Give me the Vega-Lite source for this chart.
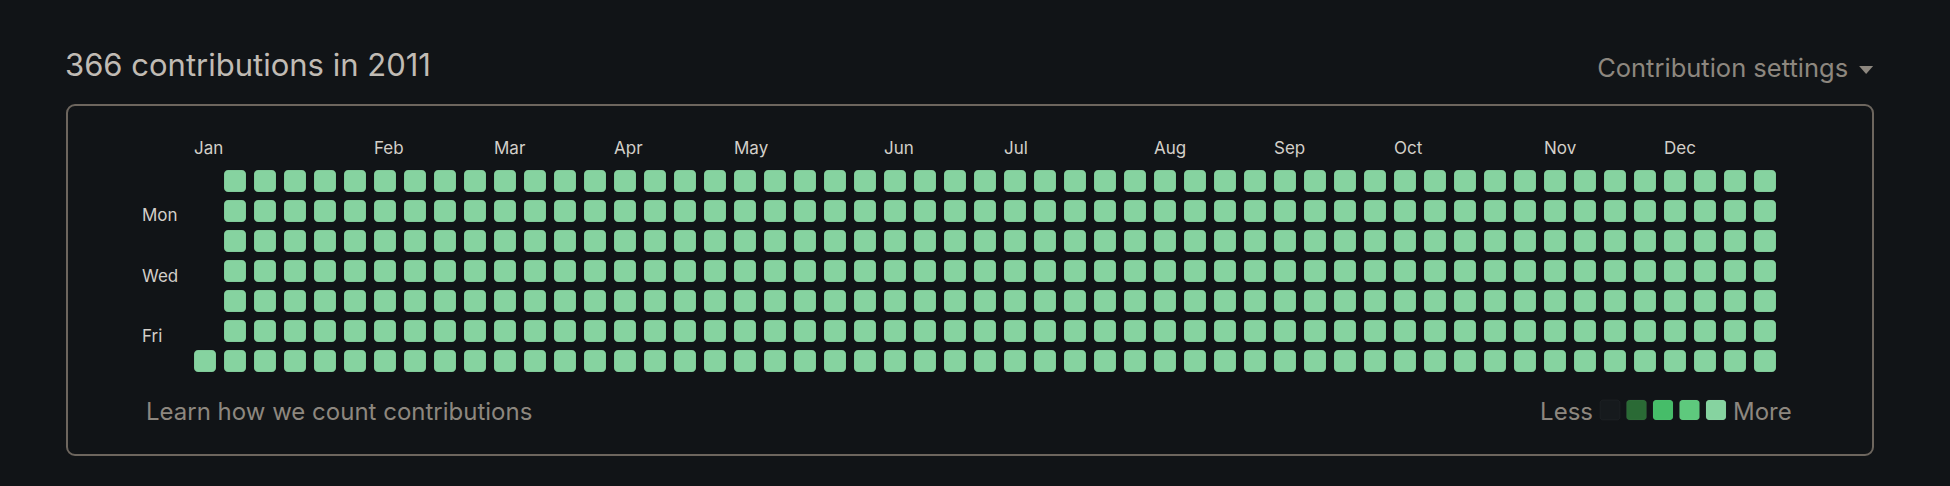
{
  "$schema": "https://vega.github.io/schema/vega-lite/v6.json",
  "width": 1806,
  "height": 350,
  "autosize": {"type": "none"},
  "padding": {"left": 67, "top": 105, "right": 77, "bottom": 31},
  "background": "#111417",
  "config": {
    "view": {"stroke": "#6d665e", "strokeWidth": 2, "cornerRadius": 8},
    "axis": {"disable": true},
    "legend": {"disable": true},
    "text": {"font": "Inter"}
  },
  "datasets": {
    "cells": [
      {"week":0,"day":6,"level":4},
      {"week":1,"day":0,"level":4},{"week":1,"day":1,"level":4},{"week":1,"day":2,"level":4},{"week":1,"day":3,"level":4},{"week":1,"day":4,"level":4},{"week":1,"day":5,"level":4},{"week":1,"day":6,"level":4},
      {"week":2,"day":0,"level":4},{"week":2,"day":1,"level":4},{"week":2,"day":2,"level":4},{"week":2,"day":3,"level":4},{"week":2,"day":4,"level":4},{"week":2,"day":5,"level":4},{"week":2,"day":6,"level":4},
      {"week":3,"day":0,"level":4},{"week":3,"day":1,"level":4},{"week":3,"day":2,"level":4},{"week":3,"day":3,"level":4},{"week":3,"day":4,"level":4},{"week":3,"day":5,"level":4},{"week":3,"day":6,"level":4},
      {"week":4,"day":0,"level":4},{"week":4,"day":1,"level":4},{"week":4,"day":2,"level":4},{"week":4,"day":3,"level":4},{"week":4,"day":4,"level":4},{"week":4,"day":5,"level":4},{"week":4,"day":6,"level":4},
      {"week":5,"day":0,"level":4},{"week":5,"day":1,"level":4},{"week":5,"day":2,"level":4},{"week":5,"day":3,"level":4},{"week":5,"day":4,"level":4},{"week":5,"day":5,"level":4},{"week":5,"day":6,"level":4},
      {"week":6,"day":0,"level":4},{"week":6,"day":1,"level":4},{"week":6,"day":2,"level":4},{"week":6,"day":3,"level":4},{"week":6,"day":4,"level":4},{"week":6,"day":5,"level":4},{"week":6,"day":6,"level":4},
      {"week":7,"day":0,"level":4},{"week":7,"day":1,"level":4},{"week":7,"day":2,"level":4},{"week":7,"day":3,"level":4},{"week":7,"day":4,"level":4},{"week":7,"day":5,"level":4},{"week":7,"day":6,"level":4},
      {"week":8,"day":0,"level":4},{"week":8,"day":1,"level":4},{"week":8,"day":2,"level":4},{"week":8,"day":3,"level":4},{"week":8,"day":4,"level":4},{"week":8,"day":5,"level":4},{"week":8,"day":6,"level":4},
      {"week":9,"day":0,"level":4},{"week":9,"day":1,"level":4},{"week":9,"day":2,"level":4},{"week":9,"day":3,"level":4},{"week":9,"day":4,"level":4},{"week":9,"day":5,"level":4},{"week":9,"day":6,"level":4},
      {"week":10,"day":0,"level":4},{"week":10,"day":1,"level":4},{"week":10,"day":2,"level":4},{"week":10,"day":3,"level":4},{"week":10,"day":4,"level":4},{"week":10,"day":5,"level":4},{"week":10,"day":6,"level":4},
      {"week":11,"day":0,"level":4},{"week":11,"day":1,"level":4},{"week":11,"day":2,"level":4},{"week":11,"day":3,"level":4},{"week":11,"day":4,"level":4},{"week":11,"day":5,"level":4},{"week":11,"day":6,"level":4},
      {"week":12,"day":0,"level":4},{"week":12,"day":1,"level":4},{"week":12,"day":2,"level":4},{"week":12,"day":3,"level":4},{"week":12,"day":4,"level":4},{"week":12,"day":5,"level":4},{"week":12,"day":6,"level":4},
      {"week":13,"day":0,"level":4},{"week":13,"day":1,"level":4},{"week":13,"day":2,"level":4},{"week":13,"day":3,"level":4},{"week":13,"day":4,"level":4},{"week":13,"day":5,"level":4},{"week":13,"day":6,"level":4},
      {"week":14,"day":0,"level":4},{"week":14,"day":1,"level":4},{"week":14,"day":2,"level":4},{"week":14,"day":3,"level":4},{"week":14,"day":4,"level":4},{"week":14,"day":5,"level":4},{"week":14,"day":6,"level":4},
      {"week":15,"day":0,"level":4},{"week":15,"day":1,"level":4},{"week":15,"day":2,"level":4},{"week":15,"day":3,"level":4},{"week":15,"day":4,"level":4},{"week":15,"day":5,"level":4},{"week":15,"day":6,"level":4},
      {"week":16,"day":0,"level":4},{"week":16,"day":1,"level":4},{"week":16,"day":2,"level":4},{"week":16,"day":3,"level":4},{"week":16,"day":4,"level":4},{"week":16,"day":5,"level":4},{"week":16,"day":6,"level":4},
      {"week":17,"day":0,"level":4},{"week":17,"day":1,"level":4},{"week":17,"day":2,"level":4},{"week":17,"day":3,"level":4},{"week":17,"day":4,"level":4},{"week":17,"day":5,"level":4},{"week":17,"day":6,"level":4},
      {"week":18,"day":0,"level":4},{"week":18,"day":1,"level":4},{"week":18,"day":2,"level":4},{"week":18,"day":3,"level":4},{"week":18,"day":4,"level":4},{"week":18,"day":5,"level":4},{"week":18,"day":6,"level":4},
      {"week":19,"day":0,"level":4},{"week":19,"day":1,"level":4},{"week":19,"day":2,"level":4},{"week":19,"day":3,"level":4},{"week":19,"day":4,"level":4},{"week":19,"day":5,"level":4},{"week":19,"day":6,"level":4},
      {"week":20,"day":0,"level":4},{"week":20,"day":1,"level":4},{"week":20,"day":2,"level":4},{"week":20,"day":3,"level":4},{"week":20,"day":4,"level":4},{"week":20,"day":5,"level":4},{"week":20,"day":6,"level":4},
      {"week":21,"day":0,"level":4},{"week":21,"day":1,"level":4},{"week":21,"day":2,"level":4},{"week":21,"day":3,"level":4},{"week":21,"day":4,"level":4},{"week":21,"day":5,"level":4},{"week":21,"day":6,"level":4},
      {"week":22,"day":0,"level":4},{"week":22,"day":1,"level":4},{"week":22,"day":2,"level":4},{"week":22,"day":3,"level":4},{"week":22,"day":4,"level":4},{"week":22,"day":5,"level":4},{"week":22,"day":6,"level":4},
      {"week":23,"day":0,"level":4},{"week":23,"day":1,"level":4},{"week":23,"day":2,"level":4},{"week":23,"day":3,"level":4},{"week":23,"day":4,"level":4},{"week":23,"day":5,"level":4},{"week":23,"day":6,"level":4},
      {"week":24,"day":0,"level":4},{"week":24,"day":1,"level":4},{"week":24,"day":2,"level":4},{"week":24,"day":3,"level":4},{"week":24,"day":4,"level":4},{"week":24,"day":5,"level":4},{"week":24,"day":6,"level":4},
      {"week":25,"day":0,"level":4},{"week":25,"day":1,"level":4},{"week":25,"day":2,"level":4},{"week":25,"day":3,"level":4},{"week":25,"day":4,"level":4},{"week":25,"day":5,"level":4},{"week":25,"day":6,"level":4},
      {"week":26,"day":0,"level":4},{"week":26,"day":1,"level":4},{"week":26,"day":2,"level":4},{"week":26,"day":3,"level":4},{"week":26,"day":4,"level":4},{"week":26,"day":5,"level":4},{"week":26,"day":6,"level":4},
      {"week":27,"day":0,"level":4},{"week":27,"day":1,"level":4},{"week":27,"day":2,"level":4},{"week":27,"day":3,"level":4},{"week":27,"day":4,"level":4},{"week":27,"day":5,"level":4},{"week":27,"day":6,"level":4},
      {"week":28,"day":0,"level":4},{"week":28,"day":1,"level":4},{"week":28,"day":2,"level":4},{"week":28,"day":3,"level":4},{"week":28,"day":4,"level":4},{"week":28,"day":5,"level":4},{"week":28,"day":6,"level":4},
      {"week":29,"day":0,"level":4},{"week":29,"day":1,"level":4},{"week":29,"day":2,"level":4},{"week":29,"day":3,"level":4},{"week":29,"day":4,"level":4},{"week":29,"day":5,"level":4},{"week":29,"day":6,"level":4},
      {"week":30,"day":0,"level":4},{"week":30,"day":1,"level":4},{"week":30,"day":2,"level":4},{"week":30,"day":3,"level":4},{"week":30,"day":4,"level":4},{"week":30,"day":5,"level":4},{"week":30,"day":6,"level":4},
      {"week":31,"day":0,"level":4},{"week":31,"day":1,"level":4},{"week":31,"day":2,"level":4},{"week":31,"day":3,"level":4},{"week":31,"day":4,"level":4},{"week":31,"day":5,"level":4},{"week":31,"day":6,"level":4},
      {"week":32,"day":0,"level":4},{"week":32,"day":1,"level":4},{"week":32,"day":2,"level":4},{"week":32,"day":3,"level":4},{"week":32,"day":4,"level":4},{"week":32,"day":5,"level":4},{"week":32,"day":6,"level":4},
      {"week":33,"day":0,"level":4},{"week":33,"day":1,"level":4},{"week":33,"day":2,"level":4},{"week":33,"day":3,"level":4},{"week":33,"day":4,"level":4},{"week":33,"day":5,"level":4},{"week":33,"day":6,"level":4},
      {"week":34,"day":0,"level":4},{"week":34,"day":1,"level":4},{"week":34,"day":2,"level":4},{"week":34,"day":3,"level":4},{"week":34,"day":4,"level":4},{"week":34,"day":5,"level":4},{"week":34,"day":6,"level":4},
      {"week":35,"day":0,"level":4},{"week":35,"day":1,"level":4},{"week":35,"day":2,"level":4},{"week":35,"day":3,"level":4},{"week":35,"day":4,"level":4},{"week":35,"day":5,"level":4},{"week":35,"day":6,"level":4},
      {"week":36,"day":0,"level":4},{"week":36,"day":1,"level":4},{"week":36,"day":2,"level":4},{"week":36,"day":3,"level":4},{"week":36,"day":4,"level":4},{"week":36,"day":5,"level":4},{"week":36,"day":6,"level":4},
      {"week":37,"day":0,"level":4},{"week":37,"day":1,"level":4},{"week":37,"day":2,"level":4},{"week":37,"day":3,"level":4},{"week":37,"day":4,"level":4},{"week":37,"day":5,"level":4},{"week":37,"day":6,"level":4},
      {"week":38,"day":0,"level":4},{"week":38,"day":1,"level":4},{"week":38,"day":2,"level":4},{"week":38,"day":3,"level":4},{"week":38,"day":4,"level":4},{"week":38,"day":5,"level":4},{"week":38,"day":6,"level":4},
      {"week":39,"day":0,"level":4},{"week":39,"day":1,"level":4},{"week":39,"day":2,"level":4},{"week":39,"day":3,"level":4},{"week":39,"day":4,"level":4},{"week":39,"day":5,"level":4},{"week":39,"day":6,"level":4},
      {"week":40,"day":0,"level":4},{"week":40,"day":1,"level":4},{"week":40,"day":2,"level":4},{"week":40,"day":3,"level":4},{"week":40,"day":4,"level":4},{"week":40,"day":5,"level":4},{"week":40,"day":6,"level":4},
      {"week":41,"day":0,"level":4},{"week":41,"day":1,"level":4},{"week":41,"day":2,"level":4},{"week":41,"day":3,"level":4},{"week":41,"day":4,"level":4},{"week":41,"day":5,"level":4},{"week":41,"day":6,"level":4},
      {"week":42,"day":0,"level":4},{"week":42,"day":1,"level":4},{"week":42,"day":2,"level":4},{"week":42,"day":3,"level":4},{"week":42,"day":4,"level":4},{"week":42,"day":5,"level":4},{"week":42,"day":6,"level":4},
      {"week":43,"day":0,"level":4},{"week":43,"day":1,"level":4},{"week":43,"day":2,"level":4},{"week":43,"day":3,"level":4},{"week":43,"day":4,"level":4},{"week":43,"day":5,"level":4},{"week":43,"day":6,"level":4},
      {"week":44,"day":0,"level":4},{"week":44,"day":1,"level":4},{"week":44,"day":2,"level":4},{"week":44,"day":3,"level":4},{"week":44,"day":4,"level":4},{"week":44,"day":5,"level":4},{"week":44,"day":6,"level":4},
      {"week":45,"day":0,"level":4},{"week":45,"day":1,"level":4},{"week":45,"day":2,"level":4},{"week":45,"day":3,"level":4},{"week":45,"day":4,"level":4},{"week":45,"day":5,"level":4},{"week":45,"day":6,"level":4},
      {"week":46,"day":0,"level":4},{"week":46,"day":1,"level":4},{"week":46,"day":2,"level":4},{"week":46,"day":3,"level":4},{"week":46,"day":4,"level":4},{"week":46,"day":5,"level":4},{"week":46,"day":6,"level":4},
      {"week":47,"day":0,"level":4},{"week":47,"day":1,"level":4},{"week":47,"day":2,"level":4},{"week":47,"day":3,"level":4},{"week":47,"day":4,"level":4},{"week":47,"day":5,"level":4},{"week":47,"day":6,"level":4},
      {"week":48,"day":0,"level":4},{"week":48,"day":1,"level":4},{"week":48,"day":2,"level":4},{"week":48,"day":3,"level":4},{"week":48,"day":4,"level":4},{"week":48,"day":5,"level":4},{"week":48,"day":6,"level":4},
      {"week":49,"day":0,"level":4},{"week":49,"day":1,"level":4},{"week":49,"day":2,"level":4},{"week":49,"day":3,"level":4},{"week":49,"day":4,"level":4},{"week":49,"day":5,"level":4},{"week":49,"day":6,"level":4},
      {"week":50,"day":0,"level":4},{"week":50,"day":1,"level":4},{"week":50,"day":2,"level":4},{"week":50,"day":3,"level":4},{"week":50,"day":4,"level":4},{"week":50,"day":5,"level":4},{"week":50,"day":6,"level":4},
      {"week":51,"day":0,"level":4},{"week":51,"day":1,"level":4},{"week":51,"day":2,"level":4},{"week":51,"day":3,"level":4},{"week":51,"day":4,"level":4},{"week":51,"day":5,"level":4},{"week":51,"day":6,"level":4},
      {"week":52,"day":0,"level":4},{"week":52,"day":1,"level":4},{"week":52,"day":2,"level":4},{"week":52,"day":3,"level":4},{"week":52,"day":4,"level":4},{"week":52,"day":5,"level":4},{"week":52,"day":6,"level":4}
    ],
    "months": [
      {"month":"Jan","week":0},{"month":"Feb","week":6},{"month":"Mar","week":10},{"month":"Apr","week":14},
      {"month":"May","week":18},{"month":"Jun","week":23},{"month":"Jul","week":27},{"month":"Aug","week":32},
      {"month":"Sep","week":36},{"month":"Oct","week":40},{"month":"Nov","week":45},{"month":"Dec","week":49}
    ],
    "days": [
      {"label":"Mon","day":1},{"label":"Wed","day":3},{"label":"Fri","day":5}
    ],
    "levels": [
      {"level":0},{"level":1},{"level":2},{"level":3},{"level":4}
    ]
  },
  "layer": [
    {
      "layer": [
        {
          "data": {"name": "cells"},
          "mark": {"type": "rect", "width": 22, "height": 22, "cornerRadius": 4, "stroke": "#000000", "strokeOpacity": 0.08, "strokeWidth": 1},
          "encoding": {
            "x": {"field": "week", "type": "quantitative", "scale": {"domain": [-4.6, 55.6], "nice": false, "zero": false}},
            "y": {"field": "day", "type": "quantitative", "scale": {"domain": [-2.53333, 9.13333], "nice": false, "zero": false, "reverse": true}},
            "color": {"field": "level", "type": "ordinal", "scale": {"domain": [0, 1, 2, 3, 4], "range": ["#161a1d", "#2a6a35", "#46bd69", "#5ec97d", "#86d3a0"]}}
          }
        },
        {
          "data": {"name": "months"},
          "mark": {"type": "text", "align": "left", "baseline": "alphabetic", "dx": -11, "dy": 3, "fontSize": 17, "color": "#d3cfc9"},
          "encoding": {
            "x": {"field": "week", "type": "quantitative"},
            "y": {"datum": -1},
            "text": {"field": "month"}
          }
        },
        {
          "data": {"name": "days"},
          "mark": {"type": "text", "align": "left", "baseline": "alphabetic", "dy": 10.5, "fontSize": 17, "color": "#d3cfc9"},
          "encoding": {
            "x": {"datum": -2.1},
            "y": {"field": "day", "type": "quantitative"},
            "text": {"field": "label"}
          }
        },
        {
          "data": {"values": [{"label": "366 contributions in 2011"}]},
          "mark": {"type": "text", "align": "left", "baseline": "alphabetic", "dx": -2, "fontSize": 31, "color": "#c0bbb4"},
          "encoding": {
            "x": {"datum": -4.6},
            "y": {"datum": -3.5},
            "text": {"field": "label"}
          }
        },
        {
          "data": {"values": [{"label": "Contribution settings"}]},
          "mark": {"type": "text", "align": "right", "baseline": "alphabetic", "fontSize": 25.5, "color": "#8d877f"},
          "encoding": {
            "x": {"datum": 54.77},
            "y": {"datum": -3.48},
            "text": {"field": "label"}
          }
        },
        {
          "data": {"values": [{"label": "menu"}]},
          "mark": {"type": "point", "shape": "M-1,-0.57L1,-0.57L0,0.57Z", "size": 196, "filled": true, "opacity": 1, "color": "#8d877f"},
          "encoding": {
            "x": {"datum": 55.37},
            "y": {"datum": -3.7}
          }
        },
        {
          "data": {"values": [{"label": "Learn how we count contributions"}]},
          "mark": {"type": "text", "align": "left", "baseline": "alphabetic", "dx": -2, "fontSize": 24, "color": "#8d877f"},
          "encoding": {
            "x": {"datum": -1.9},
            "y": {"datum": 7.967},
            "text": {"field": "label"}
          }
        }
      ]
    },
    {
      "layer": [
        {
          "data": {"name": "levels"},
          "mark": {"type": "rect", "width": 20, "height": 20, "cornerRadius": 3, "stroke": "#ffffff", "strokeOpacity": 0.04, "strokeWidth": 1},
          "encoding": {
            "x": {"field": "level", "type": "quantitative", "scale": {"domain": [-58.226, 9.925], "nice": false, "zero": false}},
            "y": {"datum": 7.633},
            "color": {"field": "level", "type": "ordinal"}
          }
        },
        {
          "data": {"values": [{"label": "Less"}]},
          "mark": {"type": "text", "align": "right", "baseline": "alphabetic", "dx": -17, "fontSize": 24, "color": "#8d877f"},
          "encoding": {
            "x": {"datum": 0},
            "y": {"datum": 7.967},
            "text": {"field": "label"}
          }
        },
        {
          "data": {"values": [{"label": "More"}]},
          "mark": {"type": "text", "align": "left", "baseline": "alphabetic", "dx": 17, "fontSize": 24, "color": "#8d877f"},
          "encoding": {
            "x": {"datum": 4},
            "y": {"datum": 7.967},
            "text": {"field": "label"}
          }
        }
      ]
    }
  ],
  "resolve": {"scale": {"x": "independent"}}
}
